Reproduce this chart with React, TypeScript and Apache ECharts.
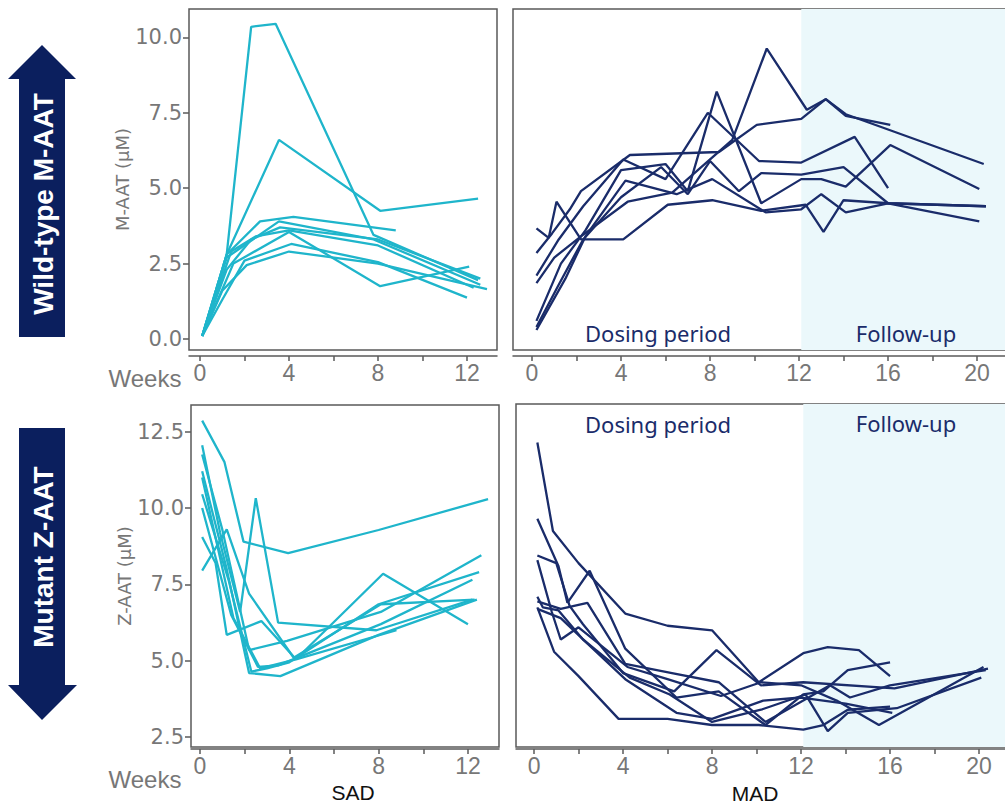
import React, { useEffect, useRef } from "react";
import * as echarts from "echarts";

// ---------- colours ----------
const SAD_COLOR = "#1FB5CB";
const MAD_COLOR = "#1A2C6A";
const NAVY = "#0B1F5E";
const SHADE = "#EBF8FB";
const TICK_TEXT = "#777777";
const AXIS_COLOR = "#5a5a5a";

// ---------- ticks ----------
const sadTickWeeks = [0, 2, 4, 6, 8, 10, 12];
const sadLabelWeeks = [0, 4, 8, 12];
const madTickWeeks = [0, 2, 4, 6, 8, 10, 12, 14, 16, 18, 20];
const madLabelWeeks = [0, 4, 8, 12, 16, 20];
const mAatTicks = [0, 2.5, 5, 7.5, 10];
const zAatTicks = [2.5, 5, 7.5, 10, 12.5];
const followUpStart = 12.1;

// ---------- data: [week, µM] per participant ----------
const sadMAat: number[][][] = [
  [[0.1, 0.1], [1.2, 2.8], [2.3, 10.35], [3.4, 10.45], [7.8, 3.45], [12.5, 1.95]],
  [[0.1, 0.1], [1.2, 2.8], [3.55, 6.6], [8.1, 4.25], [12.5, 4.65]],
  [[0.1, 0.1], [1.2, 2.8], [2.7, 3.9], [4.2, 4.05], [8.8, 3.6]],
  [[0.1, 0.1], [1.2, 2.7], [3.55, 3.9], [7.8, 3.3], [12.6, 1.8]],
  [[0.1, 0.1], [1.4, 2.9], [2.5, 3.4], [4.0, 3.6], [8.0, 3.1], [12.3, 1.7]],
  [[0.1, 0.1], [1.5, 2.5], [4.0, 3.55], [8.1, 1.75], [12.1, 2.4]],
  [[0.1, 0.1], [1.0, 1.3], [2.0, 2.6], [4.1, 3.15], [8.0, 2.55], [12.0, 1.37]],
  [[0.1, 0.1], [1.0, 1.6], [2.1, 2.45], [4.0, 2.9], [8.0, 2.5], [12.9, 1.65]],
  [[0.1, 0.1], [1.2, 2.3], [2.3, 3.3], [3.6, 3.7], [8.0, 3.3], [12.6, 2.0]],
];

const madMAat: number[][][] = [
  [[0.2, 3.67], [0.75, 3.35], [1.1, 4.55], [2.2, 3.3], [4.1, 3.3], [6.1, 4.45], [8.1, 4.6], [10.3, 4.25], [12.3, 4.45], [13.1, 3.55], [14.0, 4.6], [16.0, 4.5], [20.4, 4.4]],
  [[0.2, 2.85], [0.9, 3.5], [1.7, 4.3], [2.2, 4.9], [4.4, 6.1], [8.4, 6.2], [10.1, 7.1], [12.1, 7.3], [13.2, 7.95], [14.1, 7.45], [20.3, 5.8]],
  [[0.2, 2.1], [1.2, 3.3], [2.3, 4.4], [4.1, 5.95], [6.0, 5.3], [7.9, 7.5], [10.2, 5.9], [12.1, 5.85], [14.5, 6.7], [16.0, 5.0]],
  [[0.2, 1.85], [1.0, 2.7], [2.2, 3.4], [4.3, 4.55], [6.3, 4.85], [9.0, 6.6], [10.55, 9.63], [12.35, 7.6], [13.2, 7.95], [14.1, 7.4], [16.1, 7.1]],
  [[0.2, 0.6], [1.3, 2.5], [2.4, 3.6], [4.0, 5.6], [6.0, 5.8], [7.0, 4.9], [8.3, 8.2], [10.3, 4.5], [12.1, 5.3], [13.0, 5.3], [14.1, 5.05], [16.1, 6.43], [20.1, 4.97]],
  [[0.2, 0.4], [1.2, 1.8], [2.3, 3.3], [4.0, 4.7], [5.8, 5.7], [7.0, 4.8], [8.0, 5.9], [9.3, 4.9], [10.3, 5.5], [12.1, 5.45], [14.0, 5.7], [16.0, 4.5], [20.4, 4.4]],
  [[0.2, 0.3], [1.5, 2.0], [2.4, 3.4], [4.2, 5.25], [6.5, 4.8], [8.1, 5.3], [10.5, 4.2], [12.1, 4.3], [13.0, 4.8], [14.1, 4.2], [16.0, 4.5], [20.1, 3.9]],
];

const sadZAat: number[][][] = [
  [[0.1, 12.86], [1.1, 11.5], [1.95, 8.9], [3.95, 8.52], [8.0, 9.28], [12.9, 10.29]],
  [[0.1, 12.05], [0.9, 9.2], [1.8, 6.6], [2.5, 10.32], [3.5, 6.25], [7.9, 6.0], [12.2, 7.0]],
  [[0.1, 7.95], [1.2, 9.3], [2.2, 7.2], [4.2, 5.1], [8.1, 6.85], [12.3, 7.0]],
  [[0.1, 9.05], [0.7, 8.2], [1.2, 5.85], [2.75, 6.3], [4.3, 5.05], [8.2, 7.85], [12.0, 6.2]],
  [[0.1, 11.75], [1.0, 9.3], [2.2, 5.35], [3.9, 5.65], [8.1, 6.6], [12.6, 8.45]],
  [[0.1, 11.2], [1.2, 8.0], [2.2, 4.6], [3.6, 4.5], [8.0, 5.85], [12.4, 7.0]],
  [[0.1, 10.45], [1.3, 7.6], [2.3, 4.65], [3.0, 4.75], [4.0, 4.95], [8.0, 6.85], [12.5, 7.9]],
  [[0.1, 10.0], [1.4, 6.5], [2.6, 4.8], [3.5, 4.85], [8.1, 6.2], [12.2, 7.65]],
  [[0.1, 11.0], [1.5, 6.4], [2.7, 4.75], [4.3, 5.05], [8.8, 6.0]],
];

const madZAat: number[][][] = [
  [[0.15, 12.15], [0.85, 9.25], [2.0, 8.2], [4.1, 6.55], [6.0, 6.15], [8.0, 6.0], [10.1, 4.3], [12.1, 5.25], [13.2, 5.45], [14.6, 5.35], [16.0, 4.5]],
  [[0.15, 9.65], [1.1, 8.1], [1.5, 6.9], [2.5, 7.95], [4.1, 5.4], [6.4, 3.8], [8.3, 4.0], [10.4, 2.9], [12.1, 3.9], [13.0, 4.0], [14.1, 4.7], [16.0, 4.95]],
  [[0.15, 8.45], [1.0, 8.2], [1.6, 6.8], [2.2, 6.2], [4.0, 4.6], [6.3, 4.0], [8.2, 5.35], [10.2, 4.2], [12.1, 4.3], [16.2, 4.1], [20.4, 4.75]],
  [[0.15, 8.3], [0.8, 6.6], [1.2, 5.7], [2.0, 6.1], [4.2, 4.8], [6.0, 4.4], [8.4, 3.85], [10.2, 4.3], [12.0, 4.2], [13.6, 3.7], [15.5, 2.9], [20.2, 4.8]],
  [[0.15, 7.1], [0.4, 6.75], [1.1, 6.65], [2.2, 5.7], [4.3, 4.45], [6.1, 3.9], [8.0, 3.0], [10.2, 3.4], [12.2, 3.9], [13.2, 2.7], [14.1, 3.3], [16.3, 3.45], [20.1, 4.45]],
  [[0.15, 6.95], [1.2, 6.7], [2.4, 6.9], [4.1, 4.9], [6.2, 4.6], [8.3, 4.3], [10.4, 3.0], [12.1, 3.7], [13.3, 4.2], [14.2, 3.8], [16.0, 4.2], [20.3, 4.7]],
  [[0.15, 6.75], [0.9, 5.3], [2.0, 4.5], [3.8, 3.1], [6.0, 3.1], [8.0, 2.9], [10.1, 2.9], [12.1, 2.75], [13.0, 2.9], [14.1, 3.4], [16.0, 3.5]],
  [[0.15, 6.7], [1.2, 6.4], [2.5, 5.5], [4.1, 4.4], [6.4, 3.3], [8.0, 3.1], [10.3, 3.7], [12.0, 3.8], [14.0, 3.6], [16.1, 3.3]],
];

// ---------- panel layout ----------
const panels = [
  { grid: { left: 189, top: 9, width: 308, height: 341 }, x: [-0.494, 13.35], y: [-0.365, 10.94], ticks: sadTickWeeks, labels: sadLabelWeeks, yt: mAatTicks, yName: "M-AAT (\u03bcM)", showY: true, offset: 6, data: sadMAat, color: SAD_COLOR, shade: false },
  { grid: { left: 513, top: 9, width: 499, height: 341 }, x: [-0.854, 21.57], y: [-0.365, 10.94], ticks: madTickWeeks, labels: madLabelWeeks, yt: mAatTicks, yName: "", showY: false, offset: 6, data: madMAat, color: MAD_COLOR, shade: true },
  { grid: { left: 191, top: 405, width: 308, height: 342 }, x: [-0.4, 13.39], y: [2.18, 13.37], ticks: sadTickWeeks, labels: sadLabelWeeks, yt: zAatTicks, yName: "Z-AAT (\u03bcM)", showY: true, offset: 2, data: sadZAat, color: SAD_COLOR, shade: false },
  { grid: { left: 516, top: 404, width: 496, height: 343 }, x: [-0.81, 21.48], y: [2.18, 13.41], ticks: madTickWeeks, labels: madLabelWeeks, yt: zAatTicks, yName: "", showY: false, offset: 2, data: madZAat, color: MAD_COLOR, shade: true },
];

function buildOption() {
  const grid = panels.map((p) => ({
    ...p.grid,
    show: true,
    borderColor: AXIS_COLOR,
    borderWidth: 1.5,
    backgroundColor: "transparent",
    containLabel: false,
  }));
  const xAxis = panels.map((p, i) => ({
    gridIndex: i,
    type: "value",
    min: p.x[0],
    max: p.x[1],
    offset: p.offset,
    axisLine: { show: true, onZero: false, lineStyle: { color: AXIS_COLOR, width: 1.5 } },
    axisTick: { show: true, customValues: p.ticks, length: 5, lineStyle: { color: AXIS_COLOR, width: 1.5 } },
    axisLabel: { show: true, customValues: p.labels, color: TICK_TEXT, fontSize: 23, fontFamily: "Liberation Sans", margin: 5, formatter: (v: number) => String(Math.round(v)) },
    splitLine: { show: false },
  }));
  const yAxis = panels.map((p, i) => ({
    gridIndex: i,
    type: "value",
    min: p.y[0],
    max: p.y[1],
    axisLine: { show: false, onZero: false },
    axisTick: { show: p.showY, customValues: p.yt, length: 6, lineStyle: { color: AXIS_COLOR, width: 1.5 } },
    axisLabel: { show: p.showY, customValues: p.yt, color: TICK_TEXT, fontSize: 21, fontFamily: "DejaVu Sans", margin: 7, formatter: (v: number) => v.toFixed(1) },
    splitLine: { show: false },
    name: p.yName,
    nameLocation: "middle",
    nameGap: 56,
    nameTextStyle: { color: TICK_TEXT, fontSize: 18, fontFamily: "DejaVu Sans" },
  }));
  const series: any[] = [];
  panels.forEach((p, i) => {
    if (p.shade) {
      series.push({
        type: "line",
        xAxisIndex: i,
        yAxisIndex: i,
        data: [],
        silent: true,
        z: 1,
        markArea: {
          silent: true,
          itemStyle: { color: SHADE },
          data: [[{ xAxis: followUpStart }, { xAxis: p.x[1] }]],
        },
      });
    }
    p.data.forEach((subj) => {
      series.push({
        type: "line",
        xAxisIndex: i,
        yAxisIndex: i,
        data: subj,
        symbol: "none",
        showSymbol: false,
        silent: true,
        z: 3,
        lineStyle: { color: p.color, width: 2.3 },
      });
    });
  });

  const txt = (text: string, x: number, y: number, size: number, fill: string, family: string, extra: any = {}) => ({
    type: "text",
    x,
    y,
    z: 10,
    silent: true,
    ...extra,
    style: { text, fill, fontSize: size, fontFamily: family, fontWeight: extra.bold ? "bold" : "normal", align: "center", verticalAlign: "middle" },
  });

  const graphic = [
    { type: "polygon", silent: true, shape: { points: [[42, 45], [76, 79], [65, 79], [65, 337], [19, 337], [19, 79], [8, 79]] }, style: { fill: NAVY } },
    { type: "polygon", silent: true, shape: { points: [[19, 428], [65, 428], [65, 685], [77, 685], [42, 720], [8, 685], [19, 685]] }, style: { fill: NAVY } },
    txt("Wild-type M-AAT", 43, 204, 28, "#ffffff", "Liberation Sans", { rotation: Math.PI / 2, bold: true }),
    txt("Mutant Z-AAT", 43, 557, 28, "#ffffff", "Liberation Sans", { rotation: Math.PI / 2, bold: true }),
    txt("Weeks", 145, 378, 24, TICK_TEXT, "Liberation Sans"),
    txt("Weeks", 145, 779, 24, TICK_TEXT, "Liberation Sans"),
    txt("SAD", 353, 792, 21, "#111111", "Liberation Sans"),
    txt("MAD", 755, 793, 21, "#111111", "Liberation Sans"),
    txt("Dosing period", 658, 333, 22, MAD_COLOR, "Noto Sans"),
    txt("Follow-up", 906, 333, 22, MAD_COLOR, "Noto Sans"),
    txt("Dosing period", 658, 424, 22, MAD_COLOR, "Noto Sans"),
    txt("Follow-up", 906, 423, 22, MAD_COLOR, "Noto Sans"),
  ];

  return {
    animation: false,
    backgroundColor: "#ffffff",
    grid,
    xAxis,
    yAxis,
    series,
    graphic,
  };
}

export default function App() {
  const ref = useRef<HTMLDivElement>(null);
  useEffect(() => {
    if (!ref.current) return;
    const chart = echarts.init(ref.current, undefined, { renderer: "svg" });
    chart.setOption(buildOption() as any);
    return () => chart.dispose();
  }, []);
  return (
    <div style={{ position: "absolute", left: 0, top: 0, width: 1005, height: 804, overflow: "hidden", background: "#ffffff" }}>
      <div ref={ref} style={{ position: "absolute", left: 0, top: 0, width: 1030, height: 804 }} />
    </div>
  );
}
